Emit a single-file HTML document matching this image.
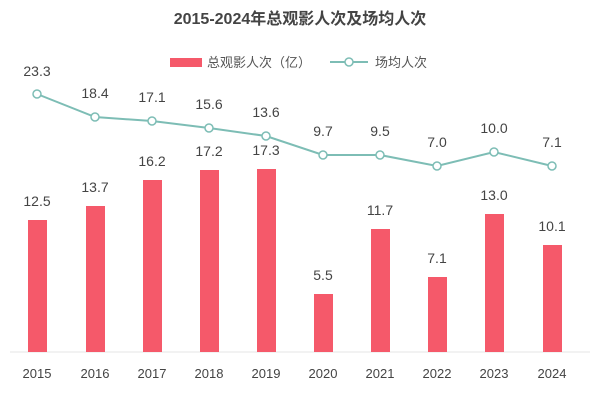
<!DOCTYPE html>
<html><head><meta charset="utf-8"><style>
html,body{margin:0;padding:0;background:#fff;}
svg{display:block;font-family:"Liberation Sans","Noto Sans CJK SC",sans-serif;}
</style></head><body>
<svg width="600" height="403" viewBox="0 0 600 403">
<text x="300" y="24" text-anchor="middle" font-size="16" font-weight="bold" fill="#444">2015-2024年总观影人次及场均人次</text>
<rect x="170" y="58" width="32" height="9" fill="#f5596a"/>
<text x="207" y="67" font-size="13" fill="#555">总观影人次（亿）</text>
<line x1="330" y1="62" x2="368" y2="62" stroke="#7dbdb5" stroke-width="2"/>
<circle cx="349" cy="62" r="4" fill="#fff" stroke="#7dbdb5" stroke-width="1.5"/>
<text x="375" y="67" font-size="13" fill="#555">场均人次</text>
<line x1="10" y1="352" x2="590" y2="352" stroke="#e6e6e6" stroke-width="1"/>
<g fill="#f5596a">
<rect x="28" y="220" width="19" height="132"/>
<rect x="86" y="206" width="19" height="146"/>
<rect x="143" y="180" width="19" height="172"/>
<rect x="200" y="170" width="19" height="182"/>
<rect x="257" y="169" width="19" height="183"/>
<rect x="314" y="294" width="19" height="58"/>
<rect x="371" y="229" width="19" height="123"/>
<rect x="428" y="277" width="19" height="75"/>
<rect x="485" y="214" width="19" height="138"/>
<rect x="543" y="245" width="19" height="107"/>
</g>
<g font-size="14" fill="#444" text-anchor="middle">
<text x="37" y="206">12.5</text>
<text x="95" y="192">13.7</text>
<text x="152" y="166">16.2</text>
<text x="209" y="156">17.2</text>
<text x="266" y="155">17.3</text>
<text x="323" y="280">5.5</text>
<text x="380" y="215">11.7</text>
<text x="437" y="263">7.1</text>
<text x="494" y="200">13.0</text>
<text x="552" y="231">10.1</text>
</g>
<polyline fill="none" stroke="#7dbdb5" stroke-width="2" points="37,94 95,117 152,121 209,128 266,136 323,155 380,155 437,166 494,152 552,166"/>
<g fill="#fff" stroke="#7dbdb5" stroke-width="1.5">
<circle cx="37" cy="94" r="4"/><circle cx="95" cy="117" r="4"/><circle cx="152" cy="121" r="4"/><circle cx="209" cy="128" r="4"/><circle cx="266" cy="136" r="4"/><circle cx="323" cy="155" r="4"/><circle cx="380" cy="155" r="4"/><circle cx="437" cy="166" r="4"/><circle cx="494" cy="152" r="4"/><circle cx="552" cy="166" r="4"/>
</g>
<g font-size="14" fill="#444" text-anchor="middle">
<text x="37" y="76">23.3</text>
<text x="95" y="98">18.4</text>
<text x="152" y="102">17.1</text>
<text x="209" y="109">15.6</text>
<text x="266" y="117">13.6</text>
<text x="323" y="136">9.7</text>
<text x="380" y="136">9.5</text>
<text x="437" y="147">7.0</text>
<text x="494" y="133">10.0</text>
<text x="552" y="147">7.1</text>
</g>
<g font-size="13" fill="#444" text-anchor="middle">
<text x="37" y="378">2015</text><text x="95" y="378">2016</text><text x="152" y="378">2017</text><text x="209" y="378">2018</text><text x="266" y="378">2019</text><text x="323" y="378">2020</text><text x="380" y="378">2021</text><text x="437" y="378">2022</text><text x="494" y="378">2023</text><text x="552" y="378">2024</text>
</g>
</svg>
</body></html>
